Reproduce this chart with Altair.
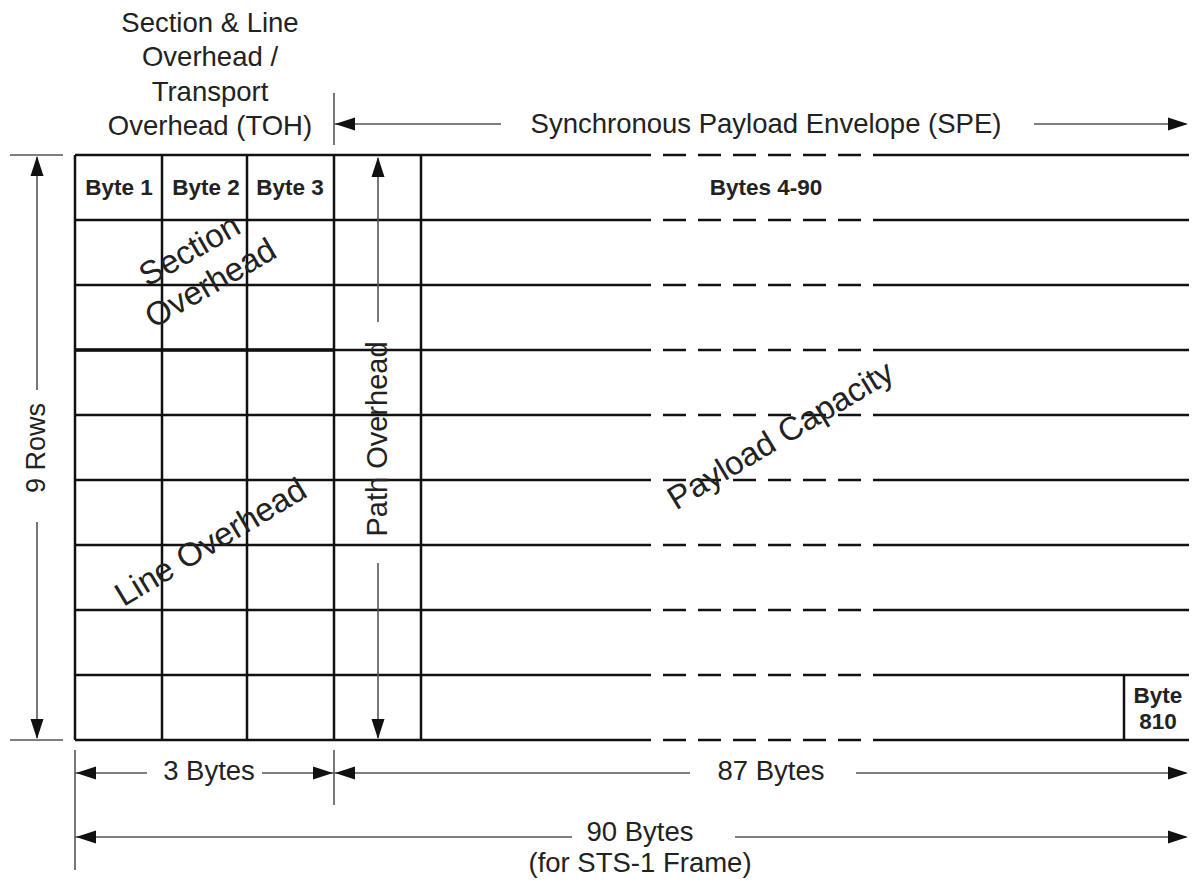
import altair as alt
import pandas as pd

# ---------------- diagram content (drawing units = pixels of the 1197x884 figure) ----------------
ROW_EDGES = [155, 220, 285, 350, 415, 480, 545, 610, 675, 740]   # 9 rows of the STS-1 frame
COL_EDGES = [75, 162, 247, 334, 421]                              # Byte 1 | Byte 2 | Byte 3 | path overhead
FRAME_RIGHT = 1189
GAP_FROM, GAP_TO = 628, 875          # elided (dashed) stretch of every row line
BYTE810_EDGE = 1124

BOLD_LABELS = ["Byte 1", "Byte 2", "Byte 3", "Bytes 4-90", "Byte", "810"]
BOLD_X = [119, 206, 290, 766, 1158, 1158]
BOLD_Y = [188, 188, 188, 188, 696, 722]

PLAIN_LABELS = ["Section & Line", "Overhead /", "Transport", "Overhead (TOH)",
                "Synchronous Payload Envelope (SPE)", "3 Bytes", "87 Bytes",
                "90 Bytes", "(for STS-1 Frame)"]
PLAIN_X = [210, 210, 210, 210, 766, 209, 771, 640, 640]
PLAIN_Y = [24, 58, 93, 127, 125, 772, 772, 833, 864]

VERT_LABELS = ["9 Rows", "Path Overhead"]
VERT_X = [37, 378]
VERT_Y = [448, 439]
VERT_SIZE = [27, 29]

SLANT_LABELS = ["Section", "Overhead", "Line Overhead", "Payload Capacity"]
SLANT_X = [190, 211, 211, 781]
SLANT_Y = [251, 284, 543, 436]
SLANT_ANGLE = [330, 330, 329, 329]

# dimension lines: (x, x2, y, y2)
DIM_LINES = [
    (334, 334, 93, 145),      # TOH / SPE boundary tick
    (334, 501, 124, 124), (1034, 1186, 124, 124),   # SPE arrow
    (10, 63, 155, 155), (10, 63, 740, 740),         # 9 rows ticks
    (37, 37, 157, 390), (37, 37, 522, 738),         # 9 rows arrow
    (378, 378, 158, 322), (378, 378, 563, 738),     # path overhead arrow
    (75, 75, 750, 870), (334, 334, 750, 805),       # bottom ticks
    (75, 147, 773, 773), (262, 334, 773, 773),      # 3 bytes
    (334, 690, 773, 773), (856, 1186, 773, 773),    # 87 bytes
    (75, 572, 837, 837), (735, 1186, 837, 837),     # 90 bytes
]
# arrow tips: (x, y, direction)
ARROW_TIPS = [
    (335, 124, "left"), (1188, 124, "right"),
    (37, 156, "up"), (37, 739, "down"),
    (378, 157, "up"), (378, 739, "down"),
    (76, 773, "left"), (333, 773, "right"),
    (335, 773, "left"), (1188, 773, "right"),
    (76, 837, "left"), (1188, 837, "right"),
]

# ---------------- build tables ----------------
solid, dashed = [], []
for y in ROW_EDGES:
    solid.append((COL_EDGES[0], GAP_FROM, y, y))
    solid.append((GAP_TO, FRAME_RIGHT, y, y))
    dashed.append((GAP_FROM, GAP_TO, y, y))
for x in COL_EDGES:
    solid.append((x, x, ROW_EDGES[0], ROW_EDGES[-1]))
solid.append((BYTE810_EDGE, BYTE810_EDGE, ROW_EDGES[-2], ROW_EDGES[-1]))

cols = ["x", "x2", "y", "y2"]
solid_df = pd.DataFrame(solid, columns=cols)
dashed_df = pd.DataFrame(dashed, columns=cols)
heavy_df = pd.DataFrame([(COL_EDGES[0], COL_EDGES[3], ROW_EDGES[3], ROW_EDGES[3])], columns=cols)
dim_df = pd.DataFrame(DIM_LINES, columns=cols)

SHAPES = {
    "up": "M0,0L-0.65,2L0.65,2Z",
    "down": "M0,0L-0.65,-2L0.65,-2Z",
    "left": "M0,0L2,-0.65L2,0.65Z",
    "right": "M0,0L-2,-0.65L-2,0.65Z",
}
arrow_df = pd.DataFrame(ARROW_TIPS, columns=["x", "y", "dir"])
arrow_df["shape"] = arrow_df["dir"].map(SHAPES)

bold_df = pd.DataFrame({"t": BOLD_LABELS, "x": BOLD_X, "y": BOLD_Y})
plain_df = pd.DataFrame({"t": PLAIN_LABELS, "x": PLAIN_X, "y": PLAIN_Y})
vert_df = pd.DataFrame({"t": VERT_LABELS, "x": VERT_X, "y": VERT_Y, "s": VERT_SIZE})
slant_df = pd.DataFrame({"t": SLANT_LABELS, "x": SLANT_X, "y": SLANT_Y, "a": SLANT_ANGLE})

# plot area = visible page area (page margin of 8px is cancelled by a negative padding)
W, H = 1189, 884
xs = alt.Scale(domain=[0, W], nice=False, zero=False)
ys = alt.Scale(domain=[H, 0], nice=False, zero=False)
X = alt.X("x:Q", scale=xs, axis=None)
Y = alt.Y("y:Q", scale=ys, axis=None)

FONT = "Liberation Sans"


def rules(df, **kw):
    return alt.Chart(df).mark_rule(**kw).encode(x=X, x2="x2:Q", y=Y, y2="y2:Q")


grid = rules(solid_df, color="#111111", strokeWidth=2.5)
heavy = rules(heavy_df, color="#111111", strokeWidth=3.5)
dash = rules(dashed_df, color="#111111", strokeWidth=2.5, strokeDash=[23, 12], strokeCap="butt")
dims = rules(dim_df, color="#555555", strokeWidth=1.6)

arrows = alt.Chart(arrow_df).mark_point(filled=True, size=400, color="#111111", opacity=1, strokeWidth=0).encode(
    x=X, y=Y, shape=alt.Shape("shape:N", scale=None, legend=None)
)

bold_txt = alt.Chart(bold_df).mark_text(font=FONT, fontSize=22.5, fontWeight="bold", color="#222222",
                                        align="center", baseline="middle").encode(x=X, y=Y, text="t:N")
plain_txt = alt.Chart(plain_df).mark_text(font=FONT, fontSize=27.5, color="#222222",
                                          align="center", baseline="middle").encode(x=X, y=Y, text="t:N")
vert_txt = alt.Chart(vert_df).mark_text(font=FONT, color="#222222", angle=270,
                                        align="center", baseline="middle").encode(
    x=X, y=Y, text="t:N", size=alt.Size("s:Q", scale=None, legend=None))
slant_txt = alt.Chart(slant_df).mark_text(font=FONT, fontSize=33, color="#222222",
                                          align="center", baseline="middle").encode(
    x=X, y=Y, text="t:N", angle=alt.Angle("a:Q", scale=None))

chart = alt.layer(grid, heavy, dash, dims, arrows, bold_txt, plain_txt, vert_txt, slant_txt).properties(
    width=W, height=H, autosize="none",
    padding={"left": -8, "top": -8, "right": 0, "bottom": 0},
    background="white",
).configure_view(strokeWidth=0)

chart.save("out.html", embed_options={"renderer": "svg", "actions": False})
